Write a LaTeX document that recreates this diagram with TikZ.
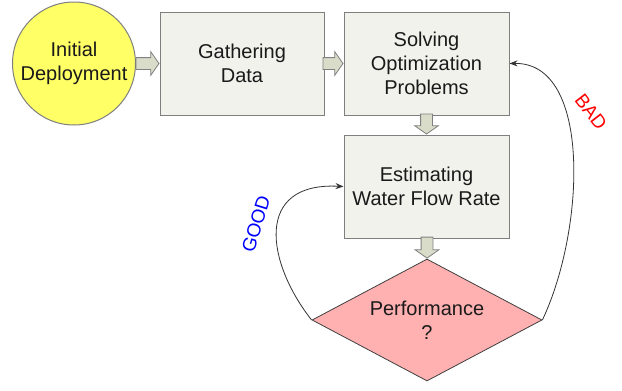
\documentclass[tikz,border=0pt]{standalone}
\usepackage{fontspec}
\setmainfont{Liberation Sans}
\usetikzlibrary{shapes.geometric,shapes.arrows,arrows.meta}
\definecolor{boxfill}{HTML}{F2F2EC}
\definecolor{boxline}{HTML}{7F7F7F}
\definecolor{circfill}{HTML}{FFFF66}
\definecolor{diafill}{HTML}{FFB0B0}
\definecolor{dialine}{HTML}{404040}
\definecolor{arrfill}{HTML}{D8DCC8}
\definecolor{arrline}{HTML}{808080}
\definecolor{txt}{HTML}{1A1A1A}
\definecolor{conline}{HTML}{333333}
\begin{document}
\begin{tikzpicture}[x=1pt,y=-1pt,
  mainfont/.style={font=\fontsize{20}{24}\selectfont, text=txt, align=center},
  box/.style={mainfont, draw=boxline, fill=boxfill, line width=1pt,
    minimum width=165pt, minimum height=103pt, inner sep=0pt},
  barrow/.style={single arrow, draw=arrline, fill=arrfill, line width=0.8pt,
    inner sep=5.5pt, single arrow head extend=6pt, single arrow tip angle=110,
    anchor=tip},
  conn/.style={draw=conline, line width=0.8pt, -{Stealth[length=8pt,width=6pt]}},
  lbl/.style={font=\fontsize{19}{22}\selectfont}]
\useasboundingbox (0,0) rectangle (622,391);

\node[mainfont, circle, draw=boxline, fill=circfill, line width=1pt,
  minimum size=123pt, inner sep=0pt] (init) at (74,63.5) {Initial\\Deployment};
\node[box, minimum width=164pt] (gather) at (242,63.5) {Gathering\\Data};
\node[box] (solve) at (426.5,63.5) {Solving\\Optimization\\Problems};
\node[box] (est) at (426.5,186.5) {Estimating\\Water Flow Rate};
\node[mainfont, diamond, aspect=1.885, draw=dialine, fill=diafill, line width=0.8pt,
  minimum width=230pt, minimum height=122pt, inner sep=0pt] (perf) at (427,320) {Performance\\?};

\node[barrow, minimum height=23pt] (a1) at (gather.west) {};
\node[barrow, minimum height=20pt] (a2) at (solve.west) {};
\node[barrow, minimum height=20pt, shape border rotate=270] (a3) at (est.north) {};
\node[barrow, minimum height=21pt, shape border rotate=270] (a4) at (perf.north) {};

\draw[conn] (perf.west) .. controls (266,262) and (254,182) .. (est.west);
\draw[conn] (perf.east) .. controls (585,230) and (592,62) .. (solve.east);

\node[lbl, text=blue, rotate=73] (good) at (256,224) {GOOD};
\node[lbl, text=red, rotate=-52] (bad) at (591,112) {BAD};
\end{tikzpicture}
\end{document}
